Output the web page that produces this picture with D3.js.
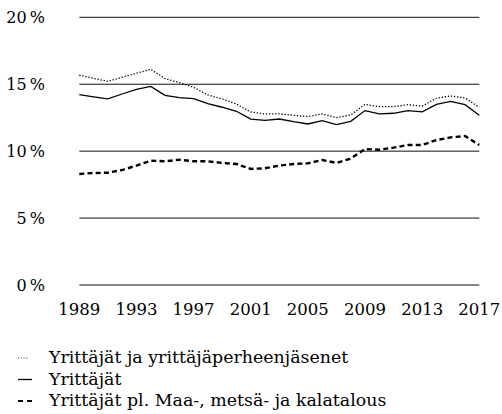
<html>
<head>
  <script src="https://cdn.jsdelivr.net/npm/d3@7"></script>
  <title>Yrittäjät</title>
  <style>
  body { margin: 0; background: #fff; }
  </style>
</head>
<body>
  <div id="chart"></div>
  <script>

  var years = d3.range(1989, 2018);
  var yTicks = [0, 5, 10, 15, 20];
  var xTickYears = [1989, 1993, 1997, 2001, 2005, 2009, 2013, 2017];

  // Yrittäjät ja yrittäjäperheenjäsenet
  var dotted = [15.67, 15.44, 15.22, 15.52, 15.82, 16.11, 15.42, 15.12, 14.77, 14.2,
    13.9, 13.52, 12.93, 12.78, 12.78, 12.68, 12.58, 12.78, 12.5, 12.7,
    13.5, 13.32, 13.32, 13.47, 13.37, 13.95, 14.12, 13.97, 13.28];
  // Yrittäjät
  var solid = [14.22, 14.05, 13.9, 14.27, 14.62, 14.84, 14.17, 14.0, 13.92, 13.55,
    13.28, 12.98, 12.4, 12.3, 12.4, 12.2, 12.03, 12.28, 11.98, 12.23,
    13.03, 12.78, 12.83, 13.03, 12.93, 13.5, 13.72, 13.47, 12.68];
  // Yrittäjät pl. Maa-, metsä- ja kalatalous
  var dashed = [8.29, 8.37, 8.39, 8.59, 8.92, 9.29, 9.24, 9.36, 9.24, 9.24,
    9.12, 9.04, 8.67, 8.72, 8.92, 9.04, 9.09, 9.34, 9.12, 9.44,
    10.16, 10.11, 10.26, 10.46, 10.46, 10.83, 11.03, 11.13, 10.46];

  var legendLabels = ["Yrittäjät ja yrittäjäperheenjäsenet", "Yrittäjät",
    "Yrittäjät pl. Maa-, metsä- ja kalatalous"];

  var width = 502, height = 414;
  var font = "DejaVu Serif";

  var svg = d3.select("#chart").append("svg")
    .attr("width", width).attr("height", height)
    .attr("font-family", font);

  var x = d3.scaleLinear().domain([1989, 2017]).range([79.3, 479.3]);
  var y = d3.scaleLinear().domain([0, 20]).range([285, 17.3]);

  // gridlines
  svg.selectAll(".grid").data(yTicks).enter()
    .append("line")
    .attr("class", "grid")
    .attr("x1", x(1989)).attr("x2", x(2017))
    .attr("y1", function(d) { return y(d); })
    .attr("y2", function(d) { return y(d); })
    .attr("stroke", "#111")
    .attr("stroke-width", 1);

  // y labels
  svg.selectAll(".ylab").data(yTicks).enter()
    .append("text")
    .attr("class", "ylab")
    .attr("x", 45)
    .attr("y", function(d) { return y(d); })
    .attr("dy", "0.36em")
    .attr("text-anchor", "end")
    .attr("font-family", font)
    .attr("font-size", 16)
    .text(function(d) { return d + "\u2009%"; });

  // x labels
  svg.selectAll(".xlab").data(xTickYears).enter()
    .append("text")
    .attr("class", "xlab")
    .attr("x", function(d) { return x(d); })
    .attr("y", 315)
    .attr("text-anchor", "middle")
    .attr("font-family", font)
    .attr("font-size", 16.5)
    .text(function(d) { return d; });

  var line = d3.line()
    .x(function(d, i) { return x(years[i]); })
    .y(function(d) { return y(d); });

  var series = [
    { values: dotted, width: 1.3, dash: "1.3,1.8" },
    { values: solid, width: 1.3, dash: null },
    { values: dashed, width: 2.4, dash: "5,3.2" }
  ];

  svg.selectAll(".series").data(series).enter()
    .append("path")
    .attr("class", "series")
    .attr("d", function(s) { return line(s.values); })
    .attr("fill", "none")
    .attr("stroke", "#000")
    .attr("stroke-width", function(s) { return s.width; })
    .attr("stroke-dasharray", function(s) { return s.dash; });

  // legend
  var legend = svg.selectAll(".legend").data(series).enter()
    .append("g")
    .attr("class", "legend")
    .attr("transform", function(d, i) { return "translate(0," + (363 + i * 21.5) + ")"; });

  legend.append("line")
    .attr("x1", 18)
    .attr("x2", function(d, i) { return i == 0 ? 29 : 32; })
    .attr("y1", -5)
    .attr("y2", -5)
    .attr("stroke", "#000")
    .attr("stroke-width", function(d, i) { return i == 0 ? 0.8 : (i == 1 ? 1.3 : 2.2); })
    .attr("stroke-dasharray", function(d, i) { return i == 0 ? "1,1.8" : (i == 2 ? "5,4" : null); });

  legend.append("text")
    .attr("x", 49)
    .attr("y", 0)
    .attr("font-family", font)
    .attr("font-size", 17.4)
    .text(function(d, i) { return legendLabels[i]; });

  </script>
</body>
</html>
